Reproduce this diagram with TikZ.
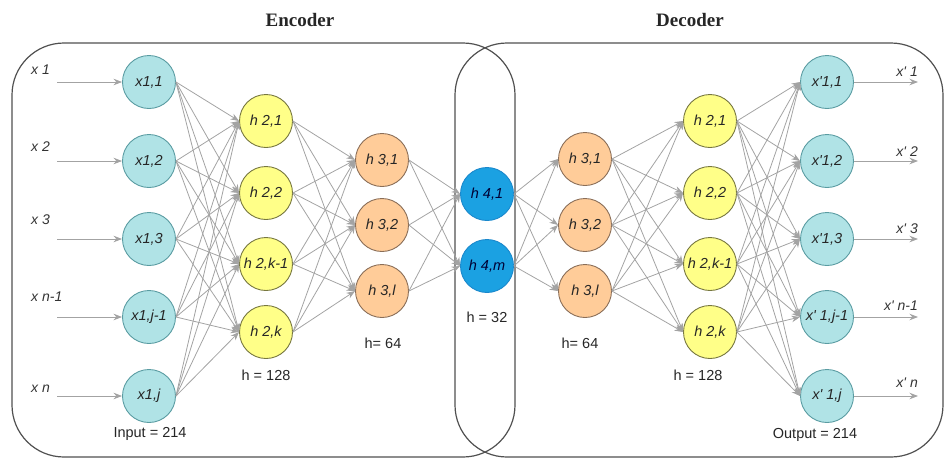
\documentclass[tikz,border=0pt]{standalone}
\usepackage{fontspec}
\setmainfont{Liberation Sans}
\newfontfamily\titlefont{Liberation Serif}
\usetikzlibrary{arrows.meta}
\definecolor{cyanfill}{HTML}{B0E3E6}
\definecolor{cyanline}{HTML}{5A9CA2}
\definecolor{yelfill}{HTML}{FFFF88}
\definecolor{yelline}{HTML}{77773F}
\definecolor{orafill}{HTML}{FFCC99}
\definecolor{oraline}{HTML}{8A6E58}
\definecolor{bluefill}{HTML}{1BA1E2}
\definecolor{blueline}{HTML}{1A88CC}
\definecolor{conn}{HTML}{A3A3A3}
\definecolor{boxline}{HTML}{505050}
\begin{document}
\begin{tikzpicture}[x=1pt,y=-1pt,
  neuron/.style={circle,draw,line width=0.9pt,minimum size=53pt,inner sep=0pt,
    font=\fontsize{14.5}{16}\selectfont\itshape,text=black!85},
  cyan fill/.style={neuron,fill=cyanfill,draw=cyanline},
  yel/.style={neuron,fill=yelfill,draw=yelline},
  ora/.style={neuron,fill=orafill,draw=oraline},
  blu/.style={neuron,fill=bluefill,draw=blueline,text={black!80!blue}},
  edge/.style={draw=conn,line width=0.8pt,-{Stealth[length=8.5pt,width=6.5pt]}},
  iolabel/.style={font=\fontsize{14}{16}\selectfont\itshape,text=black!80,inner sep=0pt},
  note/.style={font=\fontsize{14.5}{16}\selectfont,text=black!85,inner sep=0pt},
  ttl/.style={font=\titlefont\bfseries\fontsize{19}{21}\selectfont,text=black!85},
  frame/.style={draw=boxline,line width=1.2pt,rounded corners=52pt}]
\useasboundingbox (0,0) rectangle (946,459);
% frames
\draw[frame] (12,43) rectangle (515,457);
\draw[frame] (455,43) rectangle (943,457);
\node[ttl] (tenc) at (300,20) {Encoder};
\node[ttl] (tdec) at (690,20) {Decoder};
% input layer
\node[cyan fill] (i1) at (149,82) {x1,1};
\node[cyan fill] (i2) at (149,161) {x1,2};
\node[cyan fill] (i3) at (149,239) {x1,3};
\node[cyan fill] (i4) at (149,317) {x1,j-1};
\node[cyan fill] (i5) at (149,396) {x1,j};
% encoder layer 2
\node[yel] (e1) at (266,121) {h 2,1};
\node[yel] (e2) at (266,193) {h 2,2};
\node[yel] (e3) at (266,264) {h 2,k-1};
\node[yel] (e4) at (266,332) {h 2,k};
% encoder layer 3
\node[ora] (f1) at (382,160) {h 3,1};
\node[ora] (f2) at (382,225) {h 3,2};
\node[ora] (f3) at (382,291) {h 3,l};
% bottleneck
\node[blu] (b1) at (487,194) {h 4,1};
\node[blu] (b2) at (487,266) {h 4,m};
% decoder layer 3
\node[ora] (g1) at (585,159) {h 3,1};
\node[ora] (g2) at (585,225) {h 3,2};
\node[ora] (g3) at (585,291) {h 3,l};
% decoder layer 2
\node[yel] (d1) at (710,121) {h 2,1};
\node[yel] (d2) at (710,193) {h 2,2};
\node[yel] (d3) at (710,264) {h 2,k-1};
\node[yel] (d4) at (710,332) {h 2,k};
% output layer
\node[cyan fill] (o1) at (827,82) {x\textquotesingle1,1};
\node[cyan fill] (o2) at (827,161) {x\textquotesingle1,2};
\node[cyan fill] (o3) at (827,239) {x\textquotesingle1,3};
\node[cyan fill] (o4) at (827,317) {x\textquotesingle\ 1,j-1};
\node[cyan fill] (o5) at (827,396) {x\textquotesingle\ 1,j};
% connections
\foreach \a in {1,...,5}{\foreach \b in {1,...,4}{\draw[edge] (i\a.east) -- (e\b.west);}}
\foreach \a in {1,...,4}{\foreach \b in {1,...,3}{\draw[edge] (e\a.east) -- (f\b.west);}}
\foreach \a in {1,...,3}{\foreach \b in {1,2}{\draw[edge] (f\a.east) -- (b\b.west);}}
\foreach \a in {1,2}{\foreach \b in {1,...,3}{\draw[edge] (b\a.east) -- (g\b.west);}}
\foreach \a in {1,...,3}{\foreach \b in {1,...,4}{\draw[edge] (g\a.east) -- (d\b.west);}}
\foreach \a in {1,...,4}{\foreach \b in {1,...,5}{\draw[edge] (d\a.east) -- (o\b.west);}}
% input arrows and labels
\foreach \n/\y/\ly/\t in {1/82/70/x 1,2/161/147/x 2,3/239/220/x 3,4/317/297/x n-1,5/396/389/x n}{
  \coordinate (s\n) at (57,\y);
  \draw[edge] (s\n) -- (i\n.west);
  \node[iolabel,anchor=west] (lx\n) at (31,\ly) {\t};
}
% output arrows and labels
\foreach \n/\y/\ly/\t in {1/82/72/1,2/161/152/2,3/239/229/3,4/317/306/n-1,5/396/383/n}{
  \coordinate (t\n) at (918,\y);
  \draw[edge] (o\n.east) -- (t\n);
  \node[iolabel,anchor=east] (ly\n) at (918,\ly) {x\textquotesingle\ \t};
}
% notes
\node[note] (n1) at (150,434) {Input = 214};
\node[note] (n2) at (266,375) {h = 128};
\node[note] (n3) at (383,343) {h= 64};
\node[note] (n4) at (487,317) {h = 32};
\node[note] (n5) at (580,343) {h= 64};
\node[note] (n6) at (698,375) {h = 128};
\node[note] (n7) at (815,435) {Output = 214};
\end{tikzpicture}
\end{document}
